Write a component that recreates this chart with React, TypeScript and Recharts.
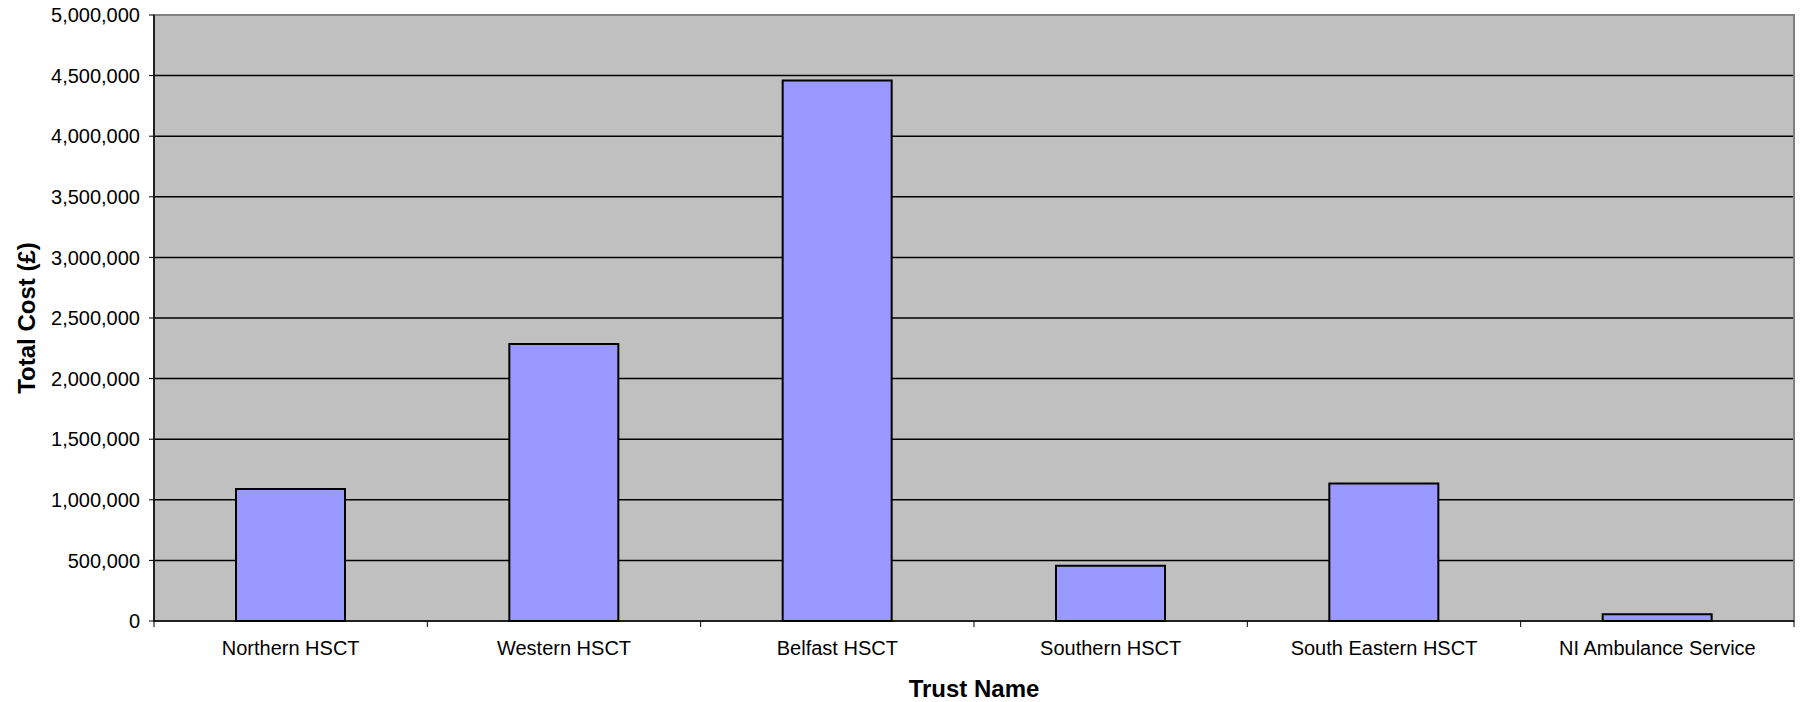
import { BarChart, Bar, XAxis, YAxis, CartesianGrid, ReferenceArea } from 'recharts'

const trusts = [
  'Northern HSCT',
  'Western HSCT',
  'Belfast HSCT',
  'Southern HSCT',
  'South Eastern HSCT',
  'NI Ambulance Service',
]

const totalCost = [1090000, 2285000, 4460000, 455000, 1135000, 55000]

const yTicks = [0, 500000, 1000000, 1500000, 2000000, 2500000, 3000000, 3500000, 4000000, 4500000, 5000000]

const data = trusts.map((name, i) => ({ name, cost: totalCost[i] }))

const FONT = '"Liberation Sans", Arial, sans-serif'
const X_TICK = 6
const X_GAP = 14

function TrustTick({ x, y, payload, index }: any) {
  const half = payload.offset ?? 0
  const lineTop = y - X_GAP - X_TICK
  const lineBottom = y - X_GAP
  return (
    <g>
      <line x1={x - half} x2={x - half} y1={lineTop} y2={lineBottom} stroke="#000" strokeWidth={1} />
      {index === trusts.length - 1 && (
        <line x1={x + half} x2={x + half} y1={lineTop} y2={lineBottom} stroke="#000" strokeWidth={1} />
      )}
      <text x={x} y={y} dy="0.72em" textAnchor="middle" fontSize={20} fontFamily={FONT} fill="#000">
        {payload.value}
      </text>
    </g>
  )
}

function YTitle({ viewBox }: any) {
  const cx = viewBox.x + 26
  const cy = viewBox.y + viewBox.height / 2
  return (
    <text
      x={cx}
      y={cy}
      transform={`rotate(-90 ${cx} ${cy})`}
      textAnchor="middle"
      dominantBaseline="central"
      fontSize={24}
      fontWeight="bold"
      fontFamily={FONT}
      fill="#000"
    >
      Total Cost (£)
    </text>
  )
}

function XTitle({ viewBox }: any) {
  const cx = viewBox.x + viewBox.width / 2
  const cy = viewBox.y + 67
  return (
    <text
      x={cx}
      y={cy}
      textAnchor="middle"
      dominantBaseline="central"
      fontSize={24}
      fontWeight="bold"
      fontFamily={FONT}
      fill="#000"
    >
      Trust Name
    </text>
  )
}

export default function App() {
  return (
    <div style={{ position: 'absolute', left: 0, top: 0, background: '#fff' }}>
      <BarChart
        width={1801}
        height={702}
        data={data}
        margin={{ top: 15, right: 7, bottom: 0, left: 0 }}
        barCategoryGap="30%"
      >
        <CartesianGrid vertical={false} stroke="#000" strokeWidth={1.5} fill="#C0C0C0" fillOpacity={1} />
        <ReferenceArea y1={0} y2={5000000} fill="none" stroke="#808080" strokeWidth={2} />
        <XAxis
          dataKey="name"
          height={81}
          interval={0}
          axisLine={{ stroke: '#000', strokeWidth: 1.5 }}
          tickLine={false}
          tickSize={X_TICK}
          tickMargin={X_GAP}
          tick={<TrustTick />}
          label={<XTitle />}
        />
        <YAxis
          width={154}
          domain={[0, 5000000]}
          ticks={yTicks}
          interval={0}
          tickFormatter={(v: number) => v.toLocaleString('en-US')}
          axisLine={{ stroke: '#000', strokeWidth: 1.5 }}
          tickLine={{ stroke: '#000' }}
          tickSize={5}
          tickMargin={9}
          tick={{ fontSize: 20, fontFamily: FONT, fill: '#000' }}
          label={<YTitle />}
        />
        <Bar dataKey="cost" fill="#9999FF" stroke="#000" strokeWidth={2} isAnimationActive={false} />
      </BarChart>
    </div>
  )
}
